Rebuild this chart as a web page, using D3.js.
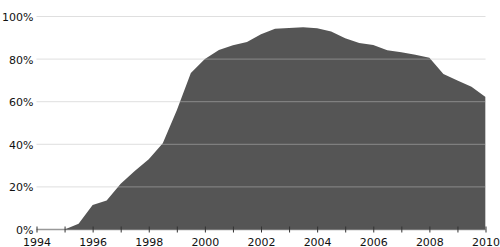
<!DOCTYPE html>
<meta charset="utf-8">
<style>
    body { margin: 0; background: #fff; }
    svg text { font-family: "DejaVu Sans", sans-serif; font-size: 11px; fill: #111; }
</style>
<body>
<script src="https://d3js.org/d3.v7.min.js"></script>
<script>
    // share per half year, in %
    var years = [1995, 1995.5, 1996, 1996.5, 1997, 1997.5, 1998, 1998.5, 1999, 1999.5,
        2000, 2000.5, 2001, 2001.5, 2002, 2002.5, 2003, 2003.5, 2004, 2004.5,
        2005, 2005.5, 2006, 2006.5, 2007, 2007.5, 2008, 2008.5, 2009, 2009.5, 2010];
    var shares = [0, 2.7, 11.5, 13.6, 21.5, 27.5, 33, 40.5, 56, 73.5,
        80, 84.3, 86.5, 88, 91.7, 94.2, 94.6, 95, 94.5, 93,
        89.8, 87.6, 86.6, 84.2, 83.2, 82, 80.6, 73, 69.9, 67, 62.2];
    var yTicks = [0, 20, 40, 60, 80, 100];
    var xTicks = d3.range(1994, 2011);

    var width = 500, height = 247;

    var x = d3.scaleLinear().domain([1994, 2010]).range([36.5, 485.5]);
    var y = d3.scaleLinear().domain([0, 100]).range([229.5, 16.5]);

    var svg = d3.select("body").append("svg")
        .attr("width", width)
        .attr("height", height);

    var data = years.map(function(d, i) { return {year: d, share: shares[i]}; });

    // baseline under everything
    svg.append("line")
        .attr("x1", x(1994)).attr("x2", x(2010))
        .attr("y1", y(0)).attr("y2", y(0))
        .attr("stroke", "#999").attr("stroke-width", 1.5);

    var area = d3.area()
        .x(function(d) { return x(d.year); })
        .y0(y(0))
        .y1(function(d) { return y(d.share); });

    svg.append("path")
        .datum(data)
        .attr("d", area)
        .attr("fill", "#555");

    // light edge on the right
    svg.append("line")
        .attr("x1", x(2010)).attr("x2", x(2010))
        .attr("y1", y(shares[shares.length - 1])).attr("y2", y(0))
        .attr("stroke", "#c8c8c8").attr("stroke-width", 1);

    // grid lines over the area
    svg.append("g")
        .selectAll("line")
        .data(yTicks.filter(function(d) { return d > 0; }))
        .enter().append("line")
        .attr("x1", x(1994)).attr("x2", x(2010))
        .attr("y1", function(d) { return y(d); })
        .attr("y2", function(d) { return y(d); })
        .attr("stroke", "#c0c0c0")
        .attr("stroke-opacity", 0.5)
        .attr("stroke-width", 1);

    var yAxis = d3.axisLeft(y)
        .tickValues(yTicks)
        .tickSize(0)
        .tickPadding(3)
        .tickFormat(function(d) { return d + "%"; });

    svg.append("g")
        .attr("transform", "translate(" + x(1994) + ",0)")
        .call(yAxis)
        .call(function(g) { g.select(".domain").remove(); })
        .selectAll("text")
        .attr("dy", "0.36em");

    var xAxis = d3.axisBottom(x)
        .tickValues(xTicks)
        .tickSize(6)
        .tickPadding(6)
        .tickFormat(function(d) { return d % 2 === 0 ? d : ""; });

    svg.append("g")
        .attr("transform", "translate(0," + (y(0) - 3) + ")")
        .call(xAxis)
        .call(function(g) { g.select(".domain").remove(); })
        .call(function(g) { g.selectAll(".tick line").attr("stroke", "#333"); });
</script>
